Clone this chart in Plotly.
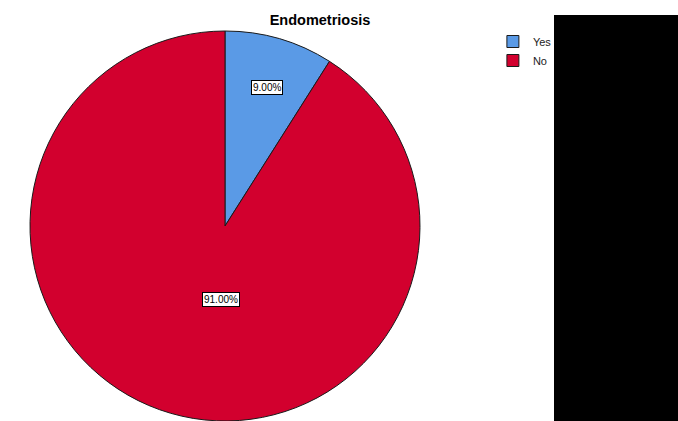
import math
import plotly.graph_objects as go

categories = ["Yes", "No"]
values = [9.00, 91.00]
colors = ["#5A9AE6", "#D2002E"]
title_text = "Endometriosis"

W, H = 678, 421
cx, cy, R = 225, 226, 195  # pixels from top-left

fig = go.Figure()
fig.add_trace(go.Pie(
    labels=categories, values=values, sort=False, direction="clockwise", rotation=0,
    marker=dict(colors=colors, line=dict(color="#1a1a1a", width=1)),
    textinfo="none", hoverinfo="label+percent",
    domain=dict(x=[(cx - R) / W, (cx + R) / W], y=[(H - cy - R) / H, (H - cy + R) / H]),
))

# value labels with white boxes, placed along each slice's mid-angle
total = sum(values)
start = 0.0
label_r = [0.78, 0.43]
for v, lr in zip(values, label_r):
    mid = start + v / total * 360 / 2
    start += v / total * 360
    ang = math.radians(mid)
    px = cx + lr * R * math.sin(ang)
    py = cy - lr * R * math.cos(ang)
    fig.add_annotation(
        x=px / W, y=1 - py / H, xref="paper", yref="paper",
        text=f"{v / total * 100:.2f}%", showarrow=False,
        font=dict(family="Liberation Sans, Arial", size=10, color="black"),
        bgcolor="white", bordercolor="black", borderwidth=1, borderpad=1,
    )

fig.add_shape(type="rect", xref="paper", yref="paper",
              x0=554 / W, x1=1, y0=0, y1=1 - 15 / H,
              fillcolor="black", line=dict(width=0), layer="above")

fig.update_layout(
    width=W, height=H,
    margin=dict(l=0, r=0, t=0, b=0),
    paper_bgcolor="white", plot_bgcolor="white",
    title=dict(text=f"<b>{title_text}</b>", x=320 / W, xanchor="center",
               y=1 - 20 / H, yanchor="middle",
               font=dict(family="Liberation Sans, Arial", size=14.5, color="black")),
    legend=dict(x=0.727, y=1 - 27 / H, xanchor="left", yanchor="top",
                bgcolor="rgba(0,0,0,0)", itemwidth=30, tracegroupgap=0,
                font=dict(family="Liberation Sans, Arial", size=11, color="#222")),
    showlegend=True,
)

fig.write_html("out.html", config={"displayModeBar": False},
               post_script="document.body.style.margin='0';document.body.style.overflow='hidden';")
